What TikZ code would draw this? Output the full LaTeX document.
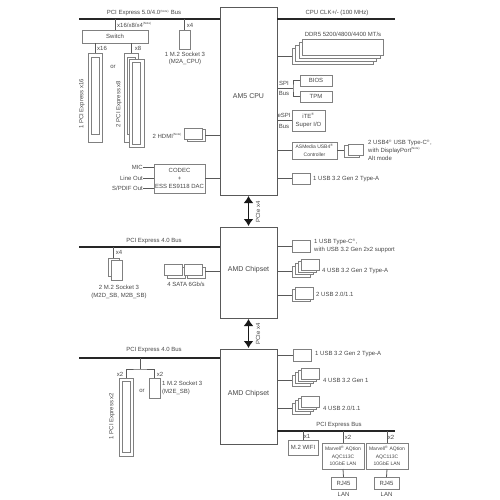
\documentclass[tikz,border=0pt]{standalone}
\usepackage{fontspec}
\setmainfont{Liberation Sans}
\usetikzlibrary{arrows.meta}
\definecolor{linegray}{gray}{0.35}
\definecolor{boxgray}{gray}{0.5}
\definecolor{textgray}{gray}{0.28}
\newcommand{\notemark}{\textsuperscript{\fontsize{3}{3}\selectfont (Note)}}
\newcommand{\regmark}{\textsuperscript{\fontsize{3.5}{3.5}\selectfont ®}}
\tikzset{
    lbl/.style={inner sep=0pt,text=textgray,align=center,
        font=\fontsize{6}{7.6}\selectfont},
    lblL/.style={lbl,anchor=west,align=left},
    lblR/.style={lbl,anchor=east,align=right},
    chiptext/.style={lbl,font=\fontsize{7}{8}\selectfont},
    chip/.style={draw=linegray,line width=1pt,fill=white,inner sep=0pt,
        outer sep=0pt,anchor=north west},
    bx/.style={draw=boxgray,line width=.55pt,fill=white,inner sep=0pt,
        outer sep=0pt,anchor=north west,text=textgray,align=center,
        font=\fontsize{6}{7.6}\selectfont},
    bus/.style={draw=black!85,line width=1.8pt},
    conn/.style={draw=linegray,line width=.8pt},
    pcie/.style={{Latex[length=7pt,width=10pt]}-{Latex[length=7pt,width=10pt]},
        draw=black!90,line width=1.8pt,shorten >=1pt,shorten <=1pt},
}
\begin{document}
\begin{tikzpicture}[x=1pt,y=-1pt]
    \useasboundingbox (0,0) rectangle (500,500);
    % main chips
    \node[chip,minimum width=57pt,minimum height=187pt] (cpu) at (220,8) {};
    \node[chip,minimum width=57pt,minimum height=91pt] (chipA) at (220,227) {};
    \node[chip,minimum width=57pt,minimum height=95pt] (chipB) at (220,349) {};
    \foreach \n/\y/\t in {cpuT/96/AM5 CPU,chipAT/270/AMD Chipset,chipBT/394/AMD Chipset}
    \node[chiptext] (\n) at (248.5,\y) {\t};
    \draw[pcie] (cpu.south) -- (chipA.north);
    \draw[pcie] (chipA.south) -- (chipB.north);
    \foreach \n/\y in {pcieA/212,pcieB/334}
    \node[lbl,rotate=90] (\n) at (258,\y) {PCIe x4};
    % buses
    \foreach \n/\y in {busA/19,busB/247,busC/358}
    \coordinate (\n) at (79,\y);
    \coordinate (clkEnd) at (395,19);
    \coordinate (busDEnd) at (395,431);
    \draw[bus] (busA) -- (busA -| cpu.west);
    \draw[bus] (busB) -- (busB -| chipA.west);
    \draw[bus] (busC) -- (busC -| chipB.west);
    \draw[bus,line width=1.2pt] (clkEnd -| cpu.east) -- (clkEnd);
    \draw[bus] (busDEnd -| chipB.east) -- (busDEnd);
    % CPU left side
    \node[bx,minimum width=66pt,minimum height=13pt] (switch) at (82,30) {Switch};
    \node[bx,minimum width=11pt,minimum height=19pt] (mA) at (179,30) {};
    \draw[conn] (mA.north) -- (mA.north |- busA);
    \draw[conn] (switch.north) -- (switch.north |- busA);
    \node[bx,minimum width=14pt,minimum height=89pt] (slotA) at (88,53) {};
    \node[bx,minimum width=8pt,minimum height=77pt] (slotAi) at (91,57) {};
    \draw[conn] (slotA.north) -- (slotA.north |- switch.south);
    \node[bx,minimum width=14pt,minimum height=89pt] (slotB) at (124,53) {};
    \node[bx,minimum width=8pt,minimum height=77pt] (slotBi) at (127,57) {};
    \draw[conn] (slotB.north) -- (slotB.north |- switch.south);
    \node[bx,minimum width=15pt,minimum height=88pt] (slotC) at (129,59) {};
    \node[bx,minimum width=8pt,minimum height=82pt] (slotCi) at (132.5,62) {};
    \node[bx,minimum width=18pt,minimum height=12pt] (hdmiB) at (187,129) {};
    \node[bx,minimum width=18pt,minimum height=11pt] (hdmiF) at (184,128) {};
    \draw[conn] (hdmiB.east) -- (hdmiB.east -| cpu.west);
    \node[bx,minimum width=51pt,minimum height=29pt] (codec) at (154,164) {CODEC\\+\\[1pt]ESS ES9118 DAC};
    \draw[conn] (codec.east) -- (codec.east -| cpu.west);
    \foreach \n/\y/\t in {mic/167/MIC,lineout/178/Line Out,spdif/188/{S/PDIF Out}}{
        \node[lblR] (\n) at (143,\y) {\t};
        \draw[conn] (\n.east) -- (\n.east -| codec.west);
    }
    % CPU right side
    \foreach \x/\y [count=\i] in {292/48,295/45,299/42,302/39}
    \node[bx,minimum width=81pt,minimum height=16pt] (ddr\i) at (\x,\y) {};
    \draw[conn] (ddr1.west -| cpu.east) -- (ddr1.west);
    \node[bx,minimum width=32pt,minimum height=11pt] (bios) at (300,75) {BIOS};
    \node[bx,minimum width=32pt,minimum height=11pt] (tpm) at (300,91) {TPM};
    \coordinate (spi) at (293,88);
    \draw[conn] (spi -| cpu.east) -- (spi);
    \draw[conn] (bios.west) -| (spi) |- (tpm.west);
    \node[bx,minimum width=33pt,minimum height=21pt] (ite) at (292,110) {iTE\regmark\\[1pt]Super I/O};
    \draw[conn] (ite.west -| cpu.east) -- (ite.west);
    \node[bx,minimum width=45pt,minimum height=17pt,font=\fontsize{5}{7.6}\selectfont] (asm) at (292,142) {ASMedia USB4\regmark\\Controller};
    \draw[conn] (asm.west -| cpu.east) -- (asm.west);
    \node[bx,minimum width=15pt,minimum height=12pt] (usbfB) at (344,145) {};
    \node[bx,minimum width=15pt,minimum height=11pt] (usbfF) at (348,144) {};
    \draw[conn] (asm.east) -- (asm.east -| usbfB.west);
    \node[bx,minimum width=18pt,minimum height=11pt] (usbG) at (292,173) {};
    \draw[conn] (usbG.west -| cpu.east) -- (usbG.west);
    % chipset right side, stacks of ports
    \foreach \s/\y in {stA/266,stB/375,stC/403}{
        \foreach \i in {0,1,2,3}
        \node[bx,minimum width=18pt,minimum height=11pt] (\s\i) at ({292+3*\i},{\y-2.3*\i}) {};
    }
    \node[bx,minimum width=18pt,minimum height=12pt] (usbC) at (292,240) {};
    \node[bx,minimum width=18pt,minimum height=12pt] (usbDb) at (292,289) {};
    \node[bx,minimum width=18pt,minimum height=12pt] (usbDf) at (295,287) {};
    \node[bx,minimum width=18pt,minimum height=12pt] (usbE) at (293,349) {};
    \draw[conn] (usbC.west -| chipA.east) -- (usbC.west);
    \draw[conn] (stA0.west -| chipA.east) -- (stA0.west);
    \draw[conn] (usbDb.west -| chipA.east) -- (usbDb.west);
    \draw[conn] (usbE.west -| chipB.east) -- (usbE.west);
    \draw[conn] (stB0.west -| chipB.east) -- (stB0.west);
    \draw[conn] (stC0.west -| chipB.east) -- (stC0.west);
    % chipset A left side
    \node[bx,minimum width=11pt,minimum height=18pt] (mBb) at (108,258) {};
    \node[bx,minimum width=11pt,minimum height=20pt] (mBf) at (111,260) {};
    \draw[conn] (mBb.north) -- (mBb.north |- busB);
    \foreach \x/\n in {164/sataA,184/sataB}{
        \node[bx,minimum width=18pt,minimum height=11pt] (\n b) at ({\x+3},267) {};
        \node[bx,minimum width=18pt,minimum height=11pt] (\n f) at (\x,264) {};
    }
    \draw[conn] (sataBb.east |- 0,271) -- (chipA.west |- 0,271);
    % chipset B left side
    \node[bx,minimum width=14pt,minimum height=78pt] (slotD) at (119,378) {};
    \node[bx,minimum width=8pt,minimum height=71pt] (slotDi) at (122,381) {};
    \node[bx,minimum width=11pt,minimum height=20pt] (mC) at (149,378) {};
    \coordinate (fork) at (140,369);
    \draw[conn] (fork) -- (fork |- busC);
    \draw[conn] (slotD.north) |- (fork) -| (mC.north);
    % chipset B right side, PCIe devices
    \node[bx,minimum width=30pt,minimum height=15pt] (wifi) at (288,440) {M.2 WIFI};
    \draw[conn] (wifi.north) -- (wifi.north |- busDEnd);
    \foreach \n/\x/\r in {lanA/322/331,lanB/366/374}{
        \node[bx,minimum width=42pt,minimum height=26pt,font=\fontsize{5}{7.6}\selectfont] (\n) at (\x,443)
            {Marvell\regmark{} AQtion\\AQC113C\\10GbE LAN};
        \node[bx,minimum width=25pt,minimum height=12pt] (\n R) at (\r,477) {RJ45};
        \draw[conn] (\n.north) -- (\n.north |- busDEnd);
        \draw[conn] (\n.south) -- (\n R.north);
        \node[lbl] (\n T) at (\n R.south |- 0,494.5) {LAN};
    }
    % texts
    \foreach \n/\x/\y/\t in {
        tBusA/144/13/{PCI Express 5.0/4.0\notemark{} Bus},
        tMA/185/58.5/{1 M.2 Socket 3\\(M2A\_CPU)},
        tXa/102/48/x16,tXb/138/48/x8,tXc/190/25/x4,tOrA/113/67/or,
        tClk/337/13/{CPU CLK+/- (100 MHz)},
        tDdr/343/34/{DDR5 5200/4800/4400 MT/s},
        tSpi/284/83/SPI,tSpb/284/93/Bus,tEs/284/115/eSPI,tEb/284/126/Bus,
        tBusB/154/241/PCI Express 4.0 Bus,tXd/119/252/x4,
        tMB/119/292/{2 M.2 Socket 3\\(M2D\_SB, M2B\_SB)},
        tSata/186/284/{4 SATA 6Gb/s},
        tBusC/154/350/PCI Express 4.0 Bus,tXe/120/374/x2,tXf/160/374/x2,tOrB/142/391/or,
        tBusD/339/425/PCI Express Bus,tXg/307/436/x1,tXh/348/437/x2,tXi/391/437/x2}
    \node[lbl] (\n) at (\x,\y) {\t};
    \foreach \n/\x/\y/\t in {
        tSw/117/25/{x16/x8/x4\notemark},
        tUf/368/150/{2 USB4\regmark{} USB Type-C\regmark,\\with DisplayPort\notemark\\Alt mode},
        tUg/313/179/{1 USB 3.2 Gen 2 Type-A},
        tUc/314/245.5/{1 USB Type-C\regmark,\\with USB 3.2 Gen 2x2 support},
        tUa/322/271/{4 USB 3.2 Gen 2 Type-A},
        tUd/316/294/{2 USB 2.0/1.1},
        tUe/315/354/{1 USB 3.2 Gen 2 Type-A},
        tUb/323/380/{4 USB 3.2 Gen 1},
        tUh/323/408/{4 USB 2.0/1.1},
        tMC/162/388/{1 M.2 Socket 3\\(M2E\_SB)}}
    \node[lblL] (\n) at (\x,\y) {\t};
    \node[lblR] (tHdmi) at (182,136) {2 HDMI\notemark};
    \foreach \n/\x/\y/\t in {
        tSlA/82/104/1 PCI Express x16,tSlB/119/104/2 PCI Express x8,tSlD/112/416/1 PCI Express x2}
    \node[lbl,rotate=90] (\n) at (\x,\y) {\t};
\end{tikzpicture}
\end{document}
